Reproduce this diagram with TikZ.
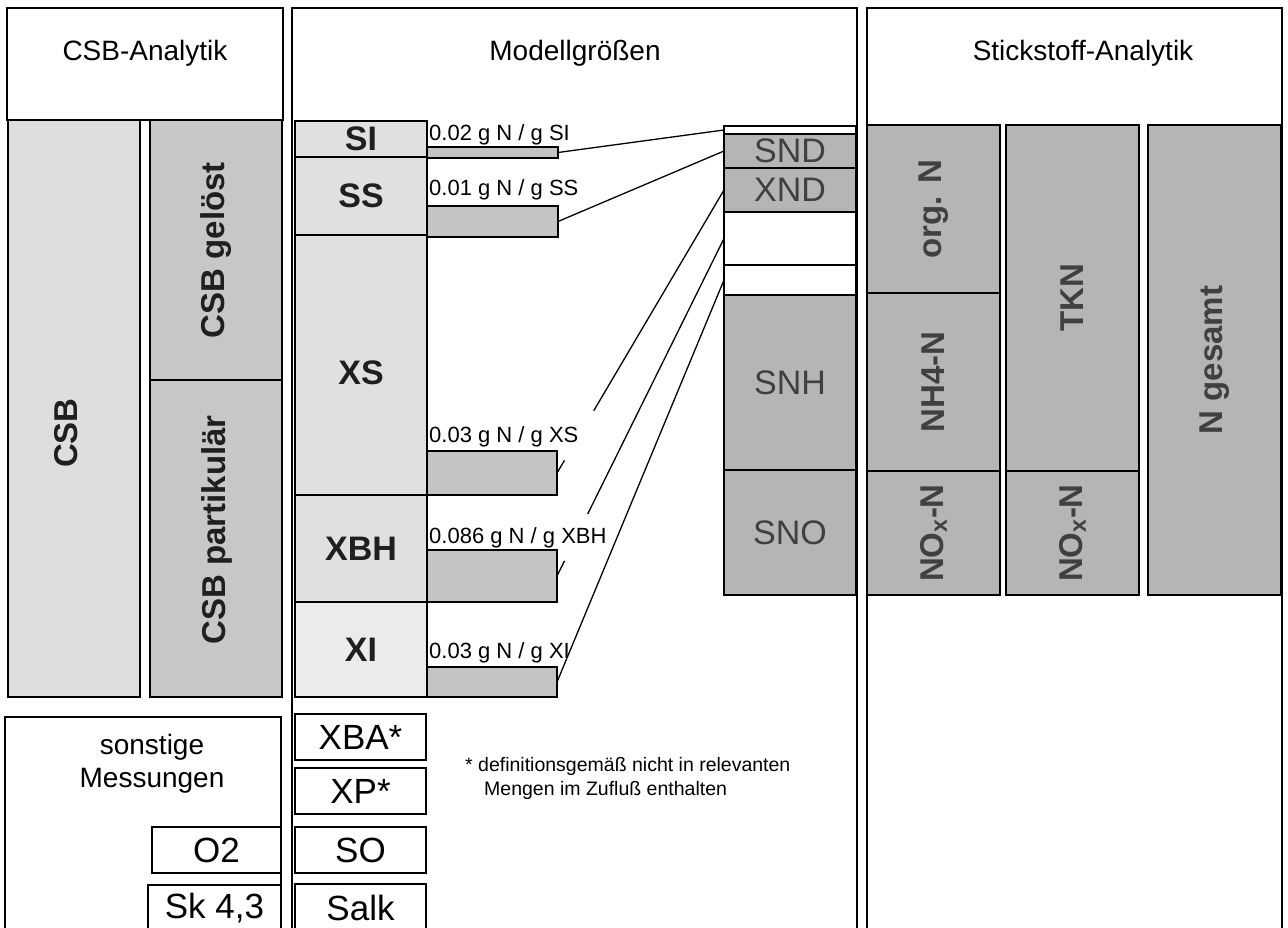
\documentclass[tikz,border=0pt]{standalone}
\usepackage{fontspec}
\setmainfont{Liberation Sans}
\usepackage{graphicx}
\usetikzlibrary{calc}
\definecolor{csbA}{gray}{0.87}
\definecolor{csbB}{gray}{0.78}
\definecolor{modA}{gray}{0.88}
\definecolor{modB}{gray}{0.92}
\definecolor{barG}{gray}{0.77}
\definecolor{nG}{gray}{0.71}
\definecolor{nText}{gray}{0.25}
\definecolor{tDark}{gray}{0.12}
\newcommand\fsTitle{\fontsize{28}{33}\selectfont}
\newcommand\fsMod{\fontsize{34}{38}\selectfont\bfseries}
\newcommand\fsN{\fontsize{34}{38}\selectfont}
\newcommand\fsRot{\fontsize{33}{38}\selectfont\bfseries}
\newcommand\fsLow{\fontsize{35}{40}\selectfont}
\newcommand\fsLbl{\fontsize{22}{26}\selectfont}
\newcommand\fsFoot{\fontsize{19.5}{23}\selectfont}
% style, name, x1, y1, x2, y2, text
\newcommand\mkbox[7]{\node[#1, minimum width={(#5)-(#3)}, minimum height={(#6)-(#4)}] (#2) at ({((#3)+(#5))/2},{((#4)+(#6))/2}) {#7};}
\begin{document}
\begin{tikzpicture}[x=1pt,y=-1pt,
  box/.style={draw=black, line width=1.6pt, inner sep=0pt, outer sep=0pt},
  csbbox/.style={box, fill=csbA, text=tDark, font=\fsRot},
  csbboxb/.style={box, fill=csbB, text=tDark, font=\fsRot},
  modbox/.style={box, fill=modA, text=tDark, font=\fsMod},
  barbox/.style={box, line width=1.4pt, fill=barG},
  nbox/.style={box, fill=nG, text=nText, font=\fsN},
  rbox/.style={box, fill=nG, text=nText, font=\fsRot},
  wbox/.style={box, fill=white},
  lowbox/.style={box, fill=white, font=\fsLow},
  panel/.style={draw=black, line width=1.6pt, inner sep=0pt, outer sep=0pt},
  title/.style={font=\fsTitle, inner sep=0pt},
  rottext/.style={font=\fsRot, text=tDark, rotate=90, inner sep=0pt},
  ratio/.style={font=\fsLbl, anchor=base west, inner sep=0pt},
  foot/.style={font=\fsFoot, anchor=base west, inner sep=0pt},
  link/.style={draw=black, line width=1.3pt},
]
\useasboundingbox[fill=white] (0,0) rectangle (1288,928);

% panels
\mkbox{panel}{leftHead}{7}{8}{283}{120}{}
\mkbox{panel}{midPanel}{292}{8}{857}{940}{}
\mkbox{panel}{rightPanel}{867}{8}{1282}{940}{}
\node[title] (tLeft) at (145,53) {CSB-Analytik};
\node[title] (tMid) at (575,53) {Modellgrößen};
\node[title] (tRight) at (1083,53) {Stickstoff-Analytik};

% left: CSB
\mkbox{csbbox}{csb}{8}{120}{140}{697}{}
\node[rottext] (csbT) at (66,433) {CSB};
\mkbox{csbboxb}{geloest}{150}{120}{282}{380}{\rotatebox{90}{CSB gelöst}}
\mkbox{csbboxb}{partik}{150}{380}{282}{697}{}
\node[rottext] (partikT) at (217,530) {CSB partikulär};

% middle: model variables
\mkbox{modbox}{SI}{295}{121}{427}{157}{SI}
\mkbox{modbox}{SS}{295}{157}{427}{235}{SS}
\mkbox{modbox}{XS}{295}{235}{427}{495}{}
\node[font=\fsMod, text=tDark, inner sep=0pt] (XST) at (361,373) {XS};
\mkbox{modbox}{XBH}{295}{495}{427}{602}{XBH}
\mkbox{modbox, fill=modB}{XI}{295}{602}{427}{697}{XI}

\mkbox{barbox}{bSI}{427}{147}{558}{158}{}
\mkbox{barbox}{bSS}{427}{206}{558}{237}{}
\mkbox{barbox}{bXS}{427}{451}{557}{495}{}
\mkbox{barbox}{bXBH}{427}{550}{557}{602}{}
\mkbox{barbox}{bXI}{427}{667}{557}{697}{}

\node[ratio] (rSI) at (429,141) {0.02 g N / g SI};
\node[ratio] (rSS) at (429,196) {0.01 g N / g SS};
\node[ratio] (rXS) at (429,442) {0.03 g N / g XS};
\node[ratio] (rXBH) at (429,543) {0.086 g N / g XBH};
\node[ratio] (rXI) at (429,658) {0.03 g N / g XI};

% N column
\mkbox{wbox}{nTop}{724}{126}{856}{134}{}
\mkbox{nbox}{SND}{724}{134}{856}{168}{SND}
\mkbox{nbox}{XND}{724}{168}{856}{212}{XND}
\mkbox{wbox}{nWa}{724}{212}{856}{265}{}
\mkbox{wbox}{nWb}{724}{265}{856}{295}{}
\mkbox{nbox}{SNH}{724}{295}{856}{470}{SNH}
\mkbox{nbox}{SNO}{724}{470}{856}{595}{SNO}

% connectors
\draw[link] (bSI.east) -- (nTop.west);
\draw[link] (bSS.east) -- (SND.west);
\draw[link] (XND.west) -- ($(XND.west)!0.78!(bXS.east)$);
\draw[link] (bXS.east) -- ($(bXS.east)!0.045!(XND.west)$);
\draw[link] (nWa.west) -- ($(nWa.west)!0.816!(bXBH.east)$);
\draw[link] (bXBH.east) -- ($(bXBH.east)!0.045!(nWa.west)$);
\draw[link] (bXI.east) -- (nWb.west);

% right: nitrogen analytics
\mkbox{rbox}{orgN}{867}{125}{1000}{293}{\rotatebox{90}{org. N}}
\mkbox{rbox}{NHfour}{867}{293}{1000}{471}{\rotatebox{90}{NH4-N}}
\mkbox{rbox}{NOxA}{867}{471}{1000}{595}{\rotatebox{90}{NO\textsubscript{x}-N}}
\mkbox{rbox}{TKN}{1006}{125}{1139}{471}{\rotatebox{90}{TKN}}
\mkbox{rbox}{NOxB}{1006}{471}{1139}{595}{\rotatebox{90}{NO\textsubscript{x}-N}}
\mkbox{rbox}{Nges}{1148}{125}{1281}{595}{\rotatebox{90}{N gesamt}}

% lower left
\mkbox{box, fill=white}{sonst}{5}{717}{281}{940}{}
\node[title, align=center] (sonstT) at (152,764) {sonstige\\Messungen};
\mkbox{lowbox}{Otwo}{152}{827}{281}{873}{O2}
\mkbox{lowbox}{Sk}{148}{885}{281}{932}{Sk 4,3}

% lower middle
\mkbox{lowbox}{XBA}{295}{714}{426}{760}{XBA*}
\mkbox{lowbox}{XP}{295}{768}{426}{814}{XP*}
\mkbox{lowbox}{SO}{295}{827}{426}{873}{SO}
\mkbox{lowbox}{Salk}{295}{884}{426}{932}{Salk}

\node[foot] (fnA) at (465,771) {* definitionsgemäß nicht in relevanten};
\node[foot] (fnB) at (484,795) {Mengen im Zufluß enthalten};
\end{tikzpicture}
\end{document}
